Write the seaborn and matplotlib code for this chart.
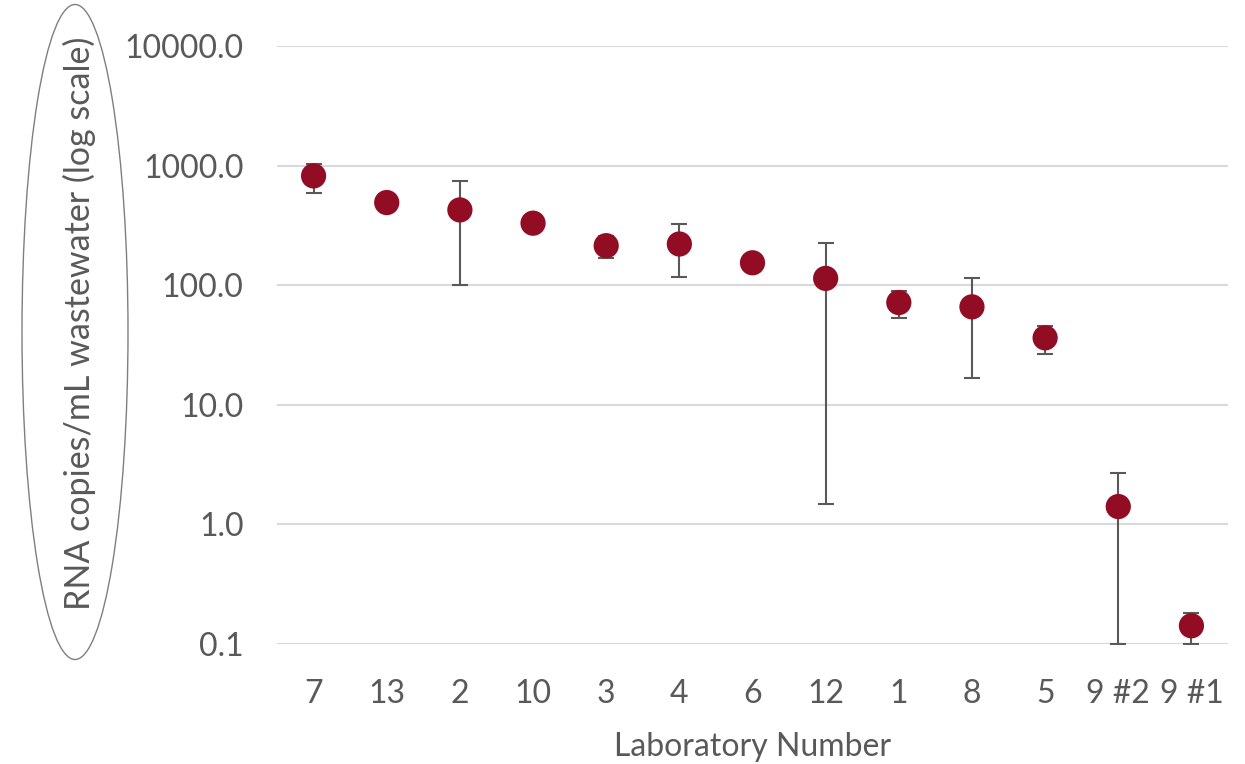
import numpy as np
import pandas as pd
import matplotlib
matplotlib.use("Agg")
import matplotlib.pyplot as plt
from matplotlib.patches import Ellipse
from matplotlib.ticker import FixedLocator, FormatStrFormatter, NullLocator
import seaborn as sns

# Laboratory results, ordered by mean concentration
labs = ["7", "13", "2", "10", "3", "4", "6", "12", "1", "8", "5", "9 #2", "9 #1"]
mean_copies = [820, 491, 426, 330, 214, 221, 154, 114, 71.6, 65.9, 36.3, 1.41, 0.142]
upper_copies = [1033, np.nan, 745, np.nan, 260, 327, np.nan, 224, 89, 114, 45.7, 2.69, 0.183]
lower_copies = [594, np.nan, 101, np.nan, 170, 116, np.nan, 1.47, 53.5, 16.7, 26.5, 0.1, 0.1]
y_ticks = [0.1, 1, 10, 100, 1000, 10000]

df = pd.DataFrame({"lab": labs, "mean": mean_copies,
                   "upper": upper_copies, "lower": lower_copies})

sns.set_theme(style="white")
plt.rcParams["font.family"] = ["Lato", "DejaVu Sans"]

text_color = "#595959"
point_color = "#920C24"

fig = plt.figure(figsize=(12.45, 7.64), dpi=100)
ax = fig.add_axes([277 / 1245, 1 - 644 / 764, 951 / 1245, 598 / 764])

# error bars (only where a range exists)
pos = np.arange(len(labs))
has_err = df["upper"].notna().to_numpy()
yerr = np.vstack([(df["mean"] - df["lower"]).to_numpy(),
                  (df["upper"] - df["mean"]).to_numpy()])
ax.errorbar(pos[has_err], df["mean"].to_numpy()[has_err], yerr=yerr[:, has_err],
            fmt="none", ecolor=text_color, elinewidth=1.5, capsize=6,
            capthick=1.5, zorder=2)

sns.scatterplot(data=df, x="lab", y="mean", ax=ax, s=330, color=point_color,
                edgecolor="none", zorder=3, legend=False)

ax.set_yscale("log")
ax.set_ylim(0.1, 10000)
ax.set_xlim(-0.5, len(labs) - 0.5)
ax.yaxis.set_major_locator(FixedLocator(y_ticks))
ax.yaxis.set_minor_locator(NullLocator())
ax.yaxis.set_major_formatter(FormatStrFormatter("%.1f"))
ax.grid(axis="y", color="#D9D9D9", linewidth=1.5, zorder=0)
ax.set_axisbelow(True)
for side in ["left", "right", "top", "bottom"]:
    ax.spines[side].set_visible(False)

ax.tick_params(axis="both", length=0, labelsize=23, labelcolor=text_color)
ax.tick_params(axis="y", pad=24)
ax.tick_params(axis="x", pad=25)
ax.set_ylabel("")
ax.set_xlabel("Laboratory Number", fontsize=23, color=text_color, labelpad=17)

# rotated axis title enclosed in an ellipse
fig.text(79 / 1245, 1 - 323 / 764, "RNA copies/mL wastewater (log scale)",
         rotation=90, ha="center", va="center", fontsize=24.5, color=text_color)
fig.add_artist(Ellipse((75 / 1245, 1 - 332 / 764), 106 / 1245, 655 / 764,
                       transform=fig.transFigure, fill=False,
                       edgecolor="#7F7F7F", linewidth=1))

fig.savefig("out.png", dpi=100)
